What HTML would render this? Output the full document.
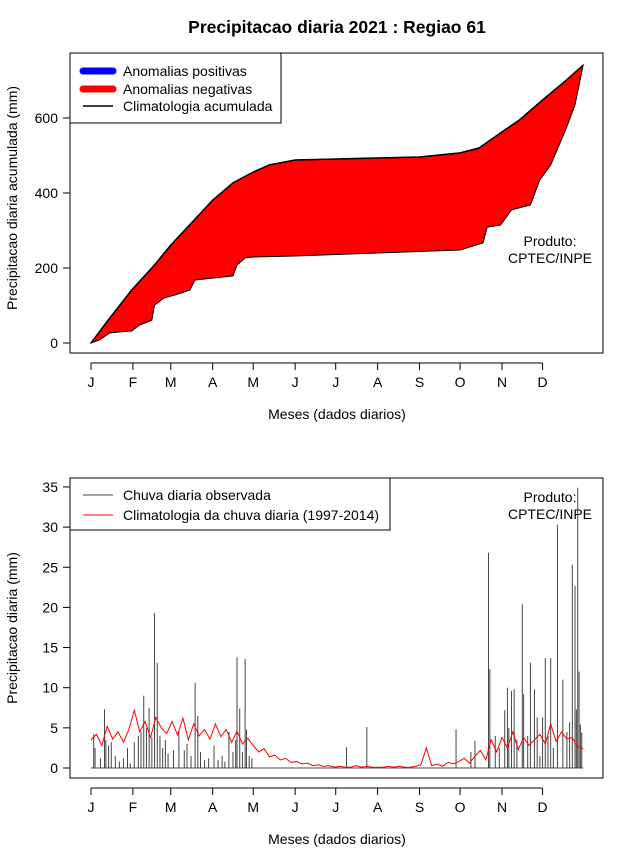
<!DOCTYPE html>
<html><head><meta charset="utf-8">
<style>
body{margin:0;background:#fff;}
svg{display:block;font-family:"Liberation Sans",sans-serif;}
</style></head>
<body>
<svg id="chart" width="640" height="850" viewBox="0 0 640 850"></svg>
<script>
// ---- data ----
const monthLabels = ["J","F","M","A","M","J","J","A","S","O","N","D"];
const monthStartDays = [1,32,60,91,121,152,182,213,244,274,305,335];
const topYTicks = [0,200,400,600];
const bottomYTicks = [0,5,10,15,20,25,30,35];
// cumulative climatology (day, mm)
const climDays = [1,15,31,48,60,74,91,106,121,133,152,244,274,288,305,318,335,351,365];
const climCum  = [0,67,141,208,261,315,381,427,456,475,488,496,507,520,563,595,648,696,741];
// cumulative observed (day, mm)
const obsDays = [1,7,15,31,37,46,48,55,63,74,78,91,106,109,115,119,152,213,274,291,294,304,312,326,333,341,352,359,365];
const obsCum  = [0,8,27,32,48,61,101,120,128,141,168,173,179,208,227,229,232,240,248,267,309,315,355,368,435,475,568,635,741];
// observed daily rain spikes (day, mm)
const rainDays = [3,4,8,11,12,14,16,19,22,25,28,30,33,36,38,40,42,44,46,48,50,52,54,56,58,62,66,70,72,75,78,80,82,85,88,92,95,98,100,103,106,108,109,111,113,115,116,118,120,190,205,271,282,285,295,296,300,303,307,309,310,312,314,316,320,321,324,326,329,331,333,335,337,339,341,343,346,350,353,355,357,359,360,361,362,363,364];
const rainVals = [4.2,2.5,1.2,7.3,3.5,2.8,3.2,1.5,0.8,1.2,2.5,0.6,3.2,4.0,4.5,9.0,5.0,7.5,3.8,19.3,13.1,4.0,2.5,3.5,1.8,2.2,4.6,2.2,3.0,1.5,10.6,6.5,2.0,1.0,1.2,2.8,1.0,1.5,0.8,4.5,2.0,3.5,13.8,7.4,2.0,13.6,4.8,1.5,1.2,2.6,5.1,4.8,2.0,3.4,26.8,12.3,4.0,2.5,7.2,10.0,5.0,9.6,9.8,3.5,20.4,9.2,4.0,13.1,9.8,6.3,1.5,6.3,13.7,4.0,13.7,2.5,30.3,11.0,4.5,5.7,25.3,22.7,7.3,34.9,12.0,5.4,4.4];
// climatology daily rain every 4 days starting day 1
const climDailyStart = 1, climDailyStep = 4;
const climDaily = [3.5,4.2,2.8,5.2,3.6,4.5,3.2,4.8,
7.2,4.5,5.8,3.8,6.3,5.0,4.3,
5.8,4.1,6.2,3.5,5.5,4.0,4.8,3.6,
5.5,3.9,4.8,3.2,4.6,3.0,3.7,
2.8,2.0,2.4,1.4,1.6,1.0,1.2,0.7,
0.8,0.5,0.6,0.3,0.4,0.2,0.3,
0.1,0.2,0.1,0.1,0.3,0.1,0.2,0.1,
0.1,0.1,0.2,0.1,0.2,0.1,0.1,0.2,
0.4,2.5,0.3,0.5,0.2,0.7,0.5,
0.8,1.2,0.6,1.5,2.2,1.0,3.5,2.0,
3.8,2.5,4.5,2.3,3.8,2.8,3.5,4.2,
3.0,5.5,3.3,4.5,3.6,3.8,2.6,2.4];

// ---- helpers ----
const svg = document.getElementById('chart');
const NS = 'http://www.w3.org/2000/svg';
function mk(tag, attrs, parent){
  const e = document.createElementNS(NS, tag);
  for (const k in attrs) e.setAttribute(k, attrs[k]);
  (parent||svg).appendChild(e);
  return e;
}
const xDay = d => 91 + (d-1)*1.352;
const yTop = v => 343 - v*0.375;
const yBot = v => 768 - v*8.03;
const FS = 14;

// title
const title = mk('text',{x:337,y:33,'text-anchor':'middle','font-size':17.5,'font-weight':'bold'});


title.textContent = 'Precipitacao diaria 2021 : Regiao 61';

function axes(prefix, top, bottom, yTicks, yFn, yTitle, yTitleY){
  const box = mk('rect',{x:70,y:top,width:533,height:bottom-top,fill:'none',stroke:'#000','stroke-width':1});
  
  
  const xa = mk('g',{});
  
  
  mk('line',{x1:xDay(1),x2:xDay(335),y1:bottom+10,y2:bottom+10,stroke:'#000'},xa);
  monthStartDays.forEach((d,i)=>{
    mk('line',{x1:xDay(d),x2:xDay(d),y1:bottom+10,y2:bottom+17,stroke:'#000'},xa);
    const t = mk('text',{x:xDay(d),y:bottom+34,'text-anchor':'middle','font-size':FS},xa);
    
    
    t.textContent = monthLabels[i];
  });
  const xt = mk('text',{x:337,y:bottom+66,'text-anchor':'middle','font-size':FS});
  
  
  xt.textContent = 'Meses (dados diarios)';
  const ya = mk('g',{});
  
  
  mk('line',{x1:70,x2:70,y1:yFn(yTicks[0]),y2:yFn(yTicks[yTicks.length-1]),stroke:'#000'},ya);
  yTicks.forEach(v=>{
    mk('line',{x1:63,x2:70,y1:yFn(v),y2:yFn(v),stroke:'#000'},ya);
    const t = mk('text',{x:58,y:yFn(v)+5,'text-anchor':'end','font-size':FS},ya);
    
    
    t.textContent = v;
  });
  const yt = mk('text',{x:0,y:0,'text-anchor':'middle','font-size':FS,transform:`translate(17,${yTitleY}) rotate(-90)`});
  
  
  yt.textContent = yTitle;
  const p = mk('text',{x:550,y:top==53?246:502,'text-anchor':'middle','font-size':FS});
  
  
  p.innerHTML = `<tspan x="550">Produto:</tspan><tspan x="550" dy="17">CPTEC/INPE</tspan>`;
}

// ---- top chart ----
axes('top',53,353,topYTicks,yTop,'Precipitacao diaria acumulada (mm)',198);
let pts = climDays.map((d,i)=>`${xDay(d)},${yTop(climCum[i])}`);
let pts2 = obsDays.map((d,i)=>`${xDay(d)},${yTop(obsCum[i])}`).reverse();
const anom = mk('polygon',{points:pts.concat(pts2).join(' '),fill:'#ff0000',stroke:'#000','stroke-width':1});


const climLine = mk('polyline',{points:pts.join(' '),fill:'none',stroke:'#000','stroke-width':1.5});



const lg1 = mk('g',{});


mk('rect',{x:70,y:53,width:211,height:70,fill:'#fff',stroke:'#000'},lg1);
[['#0000ff',7,'Anomalias positivas',71],['#ff0000',7,'Anomalias negativas',89],['#000',1.5,'Climatologia acumulada',106]].forEach(([c,w,l,y])=>{
  mk('line',{x1:83,x2:113,y1:y,y2:y,stroke:c,'stroke-width':w,'stroke-linecap':w>2?'round':'butt'},lg1);
  const t = mk('text',{x:123,y:y+5,'font-size':FS},lg1);
  
  
  t.textContent = l;
});

// ---- bottom chart ----
axes('bottom',478,778,bottomYTicks,yBot,'Precipitacao diaria (mm)',628);
const bars = mk('g',{});


rainDays.forEach((d,i)=>{
  const b = mk('line',{x1:xDay(d),x2:xDay(d),y1:yBot(0),y2:yBot(rainVals[i]),stroke:'#444','stroke-width':1},bars);
  
  
});
mk('line',{x1:xDay(1),x2:xDay(365),y1:yBot(0),y2:yBot(0),stroke:'#444','stroke-width':1},bars);
const cl = mk('polyline',{points:climDaily.map((v,i)=>`${xDay(climDailyStart+i*climDailyStep)},${yBot(v)}`).join(' '),fill:'none',stroke:'#ff0000','stroke-width':1});



const lg2 = mk('g',{});


mk('rect',{x:70,y:478,width:320,height:52,fill:'#fff',stroke:'#000'},lg2);
[['#444','Chuva diaria observada',495],['#ff0000','Climatologia da chuva diaria (1997-2014)',515]].forEach(([c,l,y])=>{
  mk('line',{x1:83,x2:113,y1:y,y2:y,stroke:c,'stroke-width':1},lg2);
  const t = mk('text',{x:123,y:y+5,'font-size':FS},lg2);
  
  
  t.textContent = l;
});
</script>
</body></html>
